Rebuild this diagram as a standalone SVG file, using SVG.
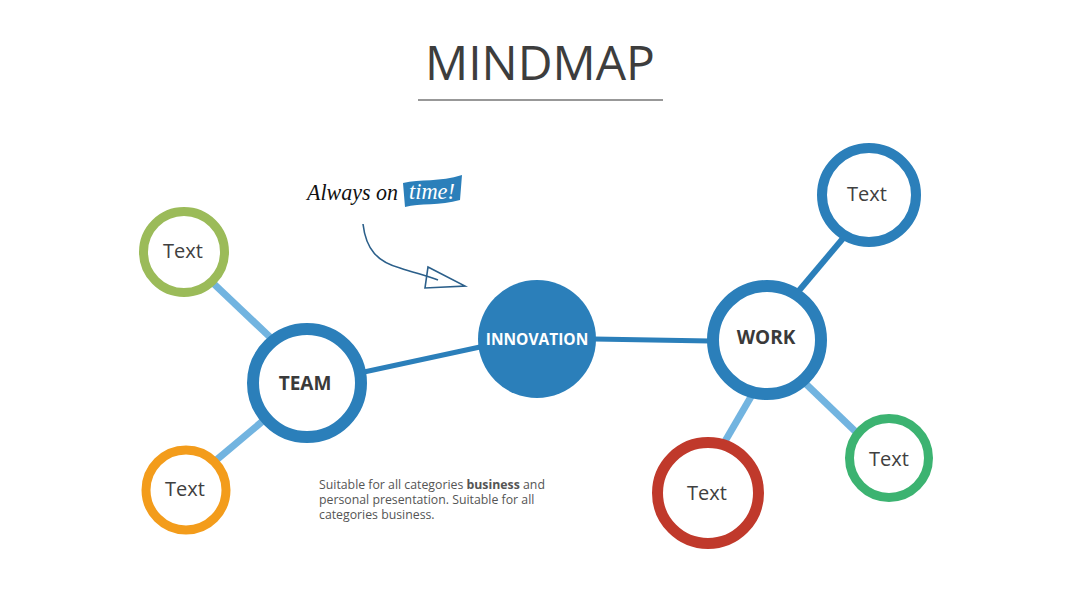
<svg xmlns="http://www.w3.org/2000/svg" width="1080" height="608" viewBox="0 0 1080 608">
<style>
.ring{fill:#fff}
.lbl{font-family:"Open Sans","Liberation Sans",sans-serif;font-size:20px;fill:#404040;text-anchor:middle}
.hub{font-family:"Open Sans","Liberation Sans",sans-serif;font-size:19px;font-weight:bold;fill:#3a3a3a;text-anchor:middle}
.dark{stroke:#2b7fba;fill:none}
.light{stroke:#72b4e0;stroke-width:7;fill:none}
.body{font-family:"Open Sans","Liberation Sans",sans-serif;font-size:12.3px;fill:#555}
.script{font-family:"Liberation Serif","DejaVu Serif",serif;font-style:italic;font-size:23px}
</style>
<rect width="1080" height="608" fill="#fff"/>
<text x="540" y="80" font-family="Open Sans, Liberation Sans, sans-serif" font-size="48" fill="#3d3d3d" text-anchor="middle">MINDMAP</text>
<line x1="418" y1="100" x2="663" y2="100" stroke="#333" stroke-width="1.2"/>

<g id="connectors">
  <line class="light" x1="214" y1="284" x2="272" y2="339"/>
  <line class="light" x1="214" y1="462" x2="264" y2="420"/>
  <line class="dark" stroke-width="5" x1="364" y1="372" x2="480" y2="347"/>
  <line class="dark" stroke-width="5" x1="594" y1="339" x2="710" y2="341"/>
  <line class="dark" stroke-width="6" x1="797" y1="293" x2="845" y2="236"/>
  <line class="light" x1="752" y1="395" x2="724" y2="443"/>
  <line class="light" x1="806" y1="384" x2="858" y2="434"/>
</g>

<g id="note">
  <path d="M363,224 C366,250 378,262 400,268 C415,273 428,276 438,280" fill="none" stroke="#2b5f8a" stroke-width="1.6"/>
  <path d="M428,267 L465,286 L425,288 Z" fill="none" stroke="#2b5f8a" stroke-width="1.6"/>
  <text class="script" x="307" y="200" fill="#111" textLength="91" lengthAdjust="spacingAndGlyphs">Always on</text>
  <path d="M403,183 C420,179 440,182 462,175 L460,200 C440,206 420,203 405,207 Z" fill="#2b7fba"/>
  <text class="script" x="409" y="199" fill="#fff" textLength="46" lengthAdjust="spacingAndGlyphs">time!</text>
</g>

<g id="node-text-green">
  <circle class="ring" cx="184" cy="252" r="40.5" stroke="#9bbb59" stroke-width="9"/>
  <text class="lbl" x="183" y="258">Text</text>
</g>
<g id="node-team">
  <circle class="ring" cx="307" cy="383" r="54" stroke="#2b7fba" stroke-width="12"/>
  <text class="hub" x="305" y="390">TEAM</text>
</g>
<g id="node-text-orange">
  <circle class="ring" cx="186" cy="490" r="40" stroke="#f39c1b" stroke-width="9"/>
  <text class="lbl" x="185" y="496">Text</text>
</g>
<g id="node-innovation">
  <circle cx="537" cy="339" r="59" fill="#2b7fba"/>
  <text x="537" y="345" font-family="Open Sans, Liberation Sans, sans-serif" font-size="15.5" font-weight="bold" fill="#fff" text-anchor="middle">INNOVATION</text>
</g>
<g id="node-work">
  <circle class="ring" cx="767" cy="340" r="54" stroke="#2b7fba" stroke-width="12"/>
  <text class="hub" x="766" y="344">WORK</text>
</g>
<g id="node-text-top">
  <circle class="ring" cx="869" cy="195" r="47" stroke="#2b7fba" stroke-width="10"/>
  <text class="lbl" x="867" y="201">Text</text>
</g>
<g id="node-text-red">
  <circle class="ring" cx="708" cy="493" r="50.5" stroke="#c0392b" stroke-width="11"/>
  <text class="lbl" x="707" y="500">Text</text>
</g>
<g id="node-text-green2">
  <circle class="ring" cx="889" cy="458" r="39.5" stroke="#3cb371" stroke-width="9"/>
  <text class="lbl" x="889" y="466">Text</text>
</g>

<g id="description">
  <text class="body" x="319" y="489">Suitable for all categories <tspan font-weight="bold">business</tspan> and</text>
  <text class="body" x="319" y="504">personal presentation. Suitable for all</text>
  <text class="body" x="319" y="519">categories business.</text>
</g>
</svg>
